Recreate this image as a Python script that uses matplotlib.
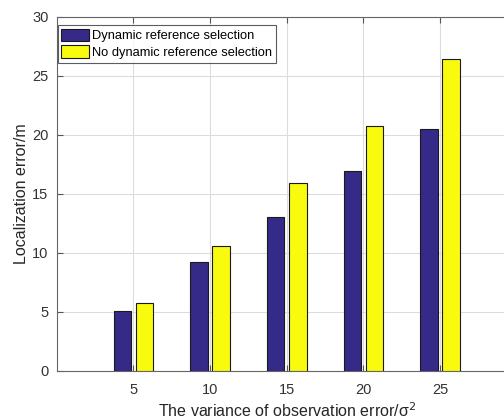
import matplotlib
matplotlib.use("Agg")
import matplotlib.pyplot as plt
import numpy as np

variances = [5, 10, 15, 20, 25]
dynamic = [5.08, 9.18, 13.05, 16.92, 20.48]
no_dynamic = [5.70, 10.60, 15.90, 20.76, 26.44]
series_names = ["Dynamic reference selection", "No dynamic reference selection"]

plt.rcParams['font.family'] = ['Liberation Sans', 'DejaVu Sans']

fig = plt.figure(figsize=(5.04, 4.2), dpi=100)
W, H = 504, 420
left, right, top, bottom = 56.7, 516.7, 16.7, 370.7
ax = fig.add_axes([left / W, 1 - bottom / H, (right - left) / W, (bottom - top) / H])

x = np.array(variances, dtype=float)
off = 0.72
bw = 1.15
ax.bar(x - off, dynamic, width=bw, color='#352A87', edgecolor='#1a1a1a', linewidth=0.8,
       label=series_names[0], zorder=3)
ax.bar(x + off, no_dynamic, width=bw, color='#F9FB0E', edgecolor='#1a1a1a', linewidth=0.8,
       label=series_names[1], zorder=3)

ax.set_xlim(0, 30)
ax.set_ylim(0, 30)
ax.set_xticks(variances + [30])
ax.set_xticklabels([str(v) for v in variances] + [""])
ax.set_yticks([0, 5, 10, 15, 20, 25, 30])
ax.grid(True, color='#dcdcdc', linewidth=0.8, zorder=0)
ax.set_axisbelow(True)
ax.tick_params(direction='in', length=4, colors='#555555', labelcolor='#333333',
               labelsize=10.5, top=True, right=True)
ax.tick_params(axis='x', pad=9)
ax.tick_params(axis='y', pad=6)
for s in ax.spines.values():
    s.set_color('#666666')
    s.set_linewidth(0.8)

ax.set_xlabel("The variance of observation error/σ$^2$", fontsize=11.5, color='#262626', labelpad=3)
ax.set_ylabel("Localization error/m", fontsize=11.5, color='#262626', labelpad=2)

leg = ax.legend(loc='upper left', bbox_to_anchor=(57.7 / W, 1 - 25 / H),
                bbox_transform=fig.transFigure, fontsize=9.3, frameon=True, fancybox=False,
                edgecolor='#333333', borderpad=0.28, labelspacing=0.25, handlelength=2.15,
                handleheight=1.1, handletextpad=0.25, borderaxespad=0)
leg.get_frame().set_linewidth(0.8)

fig.savefig("out.png", dpi=100)
